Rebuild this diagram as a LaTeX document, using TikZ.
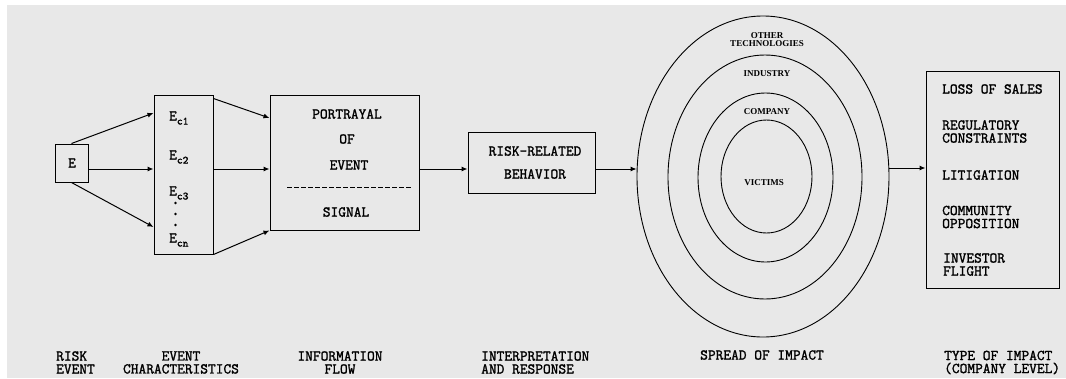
\documentclass[tikz,border=0pt]{standalone}
\usepackage{fontspec}
\setmonofont{Latin Modern Mono}[AutoFakeBold=1.6]
\newfontfamily\lblfont{Liberation Serif}
\usetikzlibrary{arrows.meta,shapes.geometric,calc}
\definecolor{bgray}{RGB}{232,232,232}
\begin{document}
\begin{tikzpicture}[x=1pt,y=-1pt,
  box/.style={draw, line width=1pt, inner sep=0pt},
  txt/.style={font=\ttfamily\bfseries\fontsize{15}{15}\selectfont, inner sep=0pt},
  small/.style={font=\lblfont\bfseries\fontsize{9}{9}\selectfont, inner sep=0pt, align=center},
  ring/.style={draw, ellipse, inner sep=0pt, line width=0.9pt},
  arr/.style={-{Latex[length=6pt,width=5pt]}, line width=1pt}]
\useasboundingbox (0,0) rectangle (1066,378);
\fill[bgray] (7,5) rectangle (1066,378);

% boxes
\node[box, minimum width=33pt, minimum height=38pt] (e) at (71.5,163) {};
\node[txt] (etxt) at (72,163) {E};
\node[box, minimum width=59pt, minimum height=159pt] (ec) at (183.5,174.5) {};
\node[box, minimum width=149pt, minimum height=135pt] (port) at (344.5,162.5) {};
\node[box, minimum width=127pt, minimum height=61pt] (rrb) at (531.5,162.5) {};
\node[box, minimum width=133pt, minimum height=217pt] (impact) at (992.5,179.5) {};

% Ec labels
\node[txt, anchor=west] (ec1) at (169,118) {E\raisebox{-4pt}{\fontsize{11}{11}\selectfont c1}};
\node[txt, anchor=west] (ec2) at (169,157) {E\raisebox{-4pt}{\fontsize{11}{11}\selectfont c2}};
\node[txt, anchor=west] (ec3) at (169,193) {E\raisebox{-4pt}{\fontsize{11}{11}\selectfont c3}};
\node[txt, anchor=west] (ecn) at (169,240) {E\raisebox{-4pt}{\fontsize{11}{11}\selectfont cn}};
\fill (175.5,203) circle (1.3);
\fill (175.5,214) circle (1.3);
\fill (175.5,225) circle (1.3);

% portrayal text
\node[txt] (p1) at (347,114) {PORTRAYAL};
\node[txt] (p2) at (347,139) {OF};
\node[txt] (p3) at (349,165) {EVENT};
\node[txt] (p4) at (346,212) {SIGNAL};
\draw[line width=1pt, dash pattern=on 5pt off 2pt] ([xshift=-57.5pt,yshift=-24.5pt]port.center) -- ([xshift=66.5pt,yshift=-24.5pt]port.center);

% risk-related behavior
\node[txt] (r1t) at (535,151) {RISK-RELATED};
\node[txt] (r2t) at (535,174) {BEHAVIOR};

% rings
\node[ring, minimum width=252pt, minimum height=321pt] (o1) at (763,176.5) {};
\node[ring, minimum width=194pt, minimum height=244pt] (o2) at (765,177) {};
\node[ring, minimum width=135pt, minimum height=169pt] (o3) at (765.5,177.5) {};
\node[ring, minimum width=91pt, minimum height=113pt] (o4) at (766.5,176.5) {};
\node[small] (l1) at (767,39.5) {OTHER\\[-1pt]TECHNOLOGIES};
\node[small] (l2) at (767,74) {INDUSTRY};
\node[small] (l3) at (767,112) {COMPANY};
\node[small] (l4) at (764,183) {VICTIMS};

% impact list
\node[txt, anchor=west] (i1) at (942,89) {LOSS OF SALES};
\node[txt, anchor=west, align=left] (i2) at (942,131.5) {REGULATORY\\[-2pt]CONSTRAINTS};
\node[txt, anchor=west] (i3) at (942,175) {LITIGATION};
\node[txt, anchor=west, align=left] (i4) at (942,217) {COMMUNITY\\[-2pt]OPPOSITION};
\node[txt, anchor=west, align=left] (i5) at (943,264.5) {INVESTOR\\[-2pt]FLIGHT};

% connectors
\draw[arr] (e.north) -- ([yshift=61.5pt]ec.west);
\draw[arr] ([yshift=-6pt]e.east) -- ([yshift=5.5pt]ec.west);
\draw[arr] (e.south) -- ([yshift=-52.5pt]ec.west);
\draw[arr] ([yshift=-4pt]ec.north east) -- ([yshift=44.5pt]port.west);
\draw[arr] ([yshift=5.5pt]ec.east) -- ([yshift=-6.5pt]port.west);
\draw[arr] (ec.south east) -- (port.south west);
\draw[arr] ([yshift=-6.5pt]port.east) -- ([yshift=-6.5pt]rrb.west);
\draw[arr] ([yshift=-6.5pt]rrb.east) -- ([yshift=-6.5pt]rrb.east -| o1.west);
\draw[arr] ([yshift=11.5pt]impact.west -| o1.east) -- ([yshift=11.5pt]impact.west);

% bottom captions
\node[txt, anchor=west, align=left] (b1) at (56,362.5) {RISK\\[-2pt]EVENT};
\node[txt, align=center] (b2) at (181,362.5) {EVENT\\[-2pt]CHARACTERISTICS};
\node[txt, align=center] (b3) at (340,362.5) {INFORMATION\\[-2pt]FLOW};
\node[txt, anchor=west, align=left] (b4) at (481,362.5) {INTERPRETATION\\[-2pt]AND RESPONSE};
\node[txt] (b5) at (762,355) {SPREAD OF IMPACT};
\node[txt, anchor=west, align=left] (b6) at (944,362.5) {TYPE OF IMPACT\\[-2pt](COMPANY LEVEL)};
\end{tikzpicture}
\end{document}
